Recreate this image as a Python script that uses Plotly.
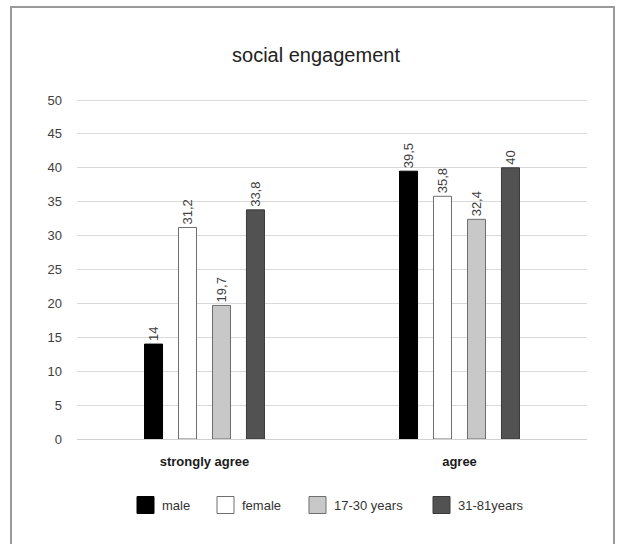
import plotly.graph_objects as go

# Survey responses (percent) by group
categories = ["strongly agree", "agree"]
series_names = ["male", "female", "17-30 years", "31-81years"]
male = [14, 39.5]
female = [31.2, 35.8]
young = [19.7, 32.4]
older = [33.8, 40]
y_ticks = [0, 5, 10, 15, 20, 25, 30, 35, 40, 45, 50]

series_values = [male, female, young, older]
fills = ["#000000", "#ffffff", "#c8c8c8", "#525252"]
outlines = ["#000000", "#6e6e6e", "#6e6e6e", "#3a3a3a"]

FONT = "Liberation Sans, Arial, sans-serif"

W, H = 617, 544
ML, MR, MT, MB = 77, 30, 99, 105
PW, PH = W - ML - MR, H - MT - MB


def px_x(x):
    # pixel column -> paper x
    return (x - ML) / PW


def px_y(y):
    # pixel row -> paper y
    return (H - MB - y) / PH


def fmt(v):
    # decimal comma, integers without decimals
    return f"{v:g}".replace(".", ",")


fig = go.Figure()
for name, vals, fc, lc in zip(series_names, series_values, fills, outlines):
    fig.add_trace(go.Bar(
        name=name,
        x=categories,
        y=vals,
        marker=dict(color=fc, line=dict(color=lc, width=1)),
        text=[fmt(v) for v in vals],
        textposition="outside",
        textangle=-90,
        textfont=dict(family=FONT, size=13, color="#404040"),
        cliponaxis=False,
        showlegend=False,
    ))

# legend drawn as swatches + labels along the bottom
legend_x = [137, 217, 309, 433]
sw, sh, ly = 17, 17, 505
shapes = []
annotations = []
for name, fc, lc, lx in zip(series_names, fills, outlines, legend_x):
    shapes.append(dict(
        type="rect", xref="paper", yref="paper",
        x0=px_x(lx), x1=px_x(lx + sw),
        y0=px_y(ly + sh / 2), y1=px_y(ly - sh / 2),
        fillcolor=fc, line=dict(color=lc, width=1),
    ))
    annotations.append(dict(
        xref="paper", yref="paper",
        x=px_x(lx + sw + 6), y=px_y(ly),
        xanchor="left", yanchor="middle",
        text=name, showarrow=False,
        font=dict(family=FONT, size=13, color="#333333"),
    ))

# outer frame
shapes.append(dict(
    type="rect", xref="paper", yref="paper",
    x0=px_x(11), x1=px_x(614),
    y0=px_y(560), y1=px_y(7),
    line=dict(color="#9a9a9a", width=2),
    fillcolor="rgba(0,0,0,0)",
    layer="below",
))

fig.update_layout(
    width=W,
    height=H,
    margin=dict(l=ML, r=MR, t=MT, b=MB),
    paper_bgcolor="white",
    plot_bgcolor="white",
    barmode="group",
    bargap=0.467,
    bargroupgap=0.47,
    uniformtext=dict(minsize=13, mode="show"),
    font=dict(family=FONT, color="#333333"),
    title=dict(
        text="social engagement",
        x=316 / W, xref="container", xanchor="center",
        y=1 - 55 / H, yref="container", yanchor="middle",
        font=dict(family=FONT, size=20, color="#222222"),
    ),
    showlegend=False,
    xaxis=dict(
        showgrid=False,
        showline=False,
        ticks="",
        ticklabelstandoff=13,
        tickfont=dict(family=FONT, size=13, color="#1a1a1a", weight="bold"),
    ),
    yaxis=dict(
        range=[0, 50.15],
        tickvals=y_ticks,
        showgrid=True,
        gridcolor="#d9d9d9",
        gridwidth=1,
        zeroline=True,
        zerolinecolor="#d0d0d0",
        zerolinewidth=1,
        showline=False,
        ticks="",
        ticklabelstandoff=14,
        tickfont=dict(family=FONT, size=13, color="#404040"),
    ),
    shapes=shapes,
    annotations=annotations,
)

fig.write_html("out.html")
